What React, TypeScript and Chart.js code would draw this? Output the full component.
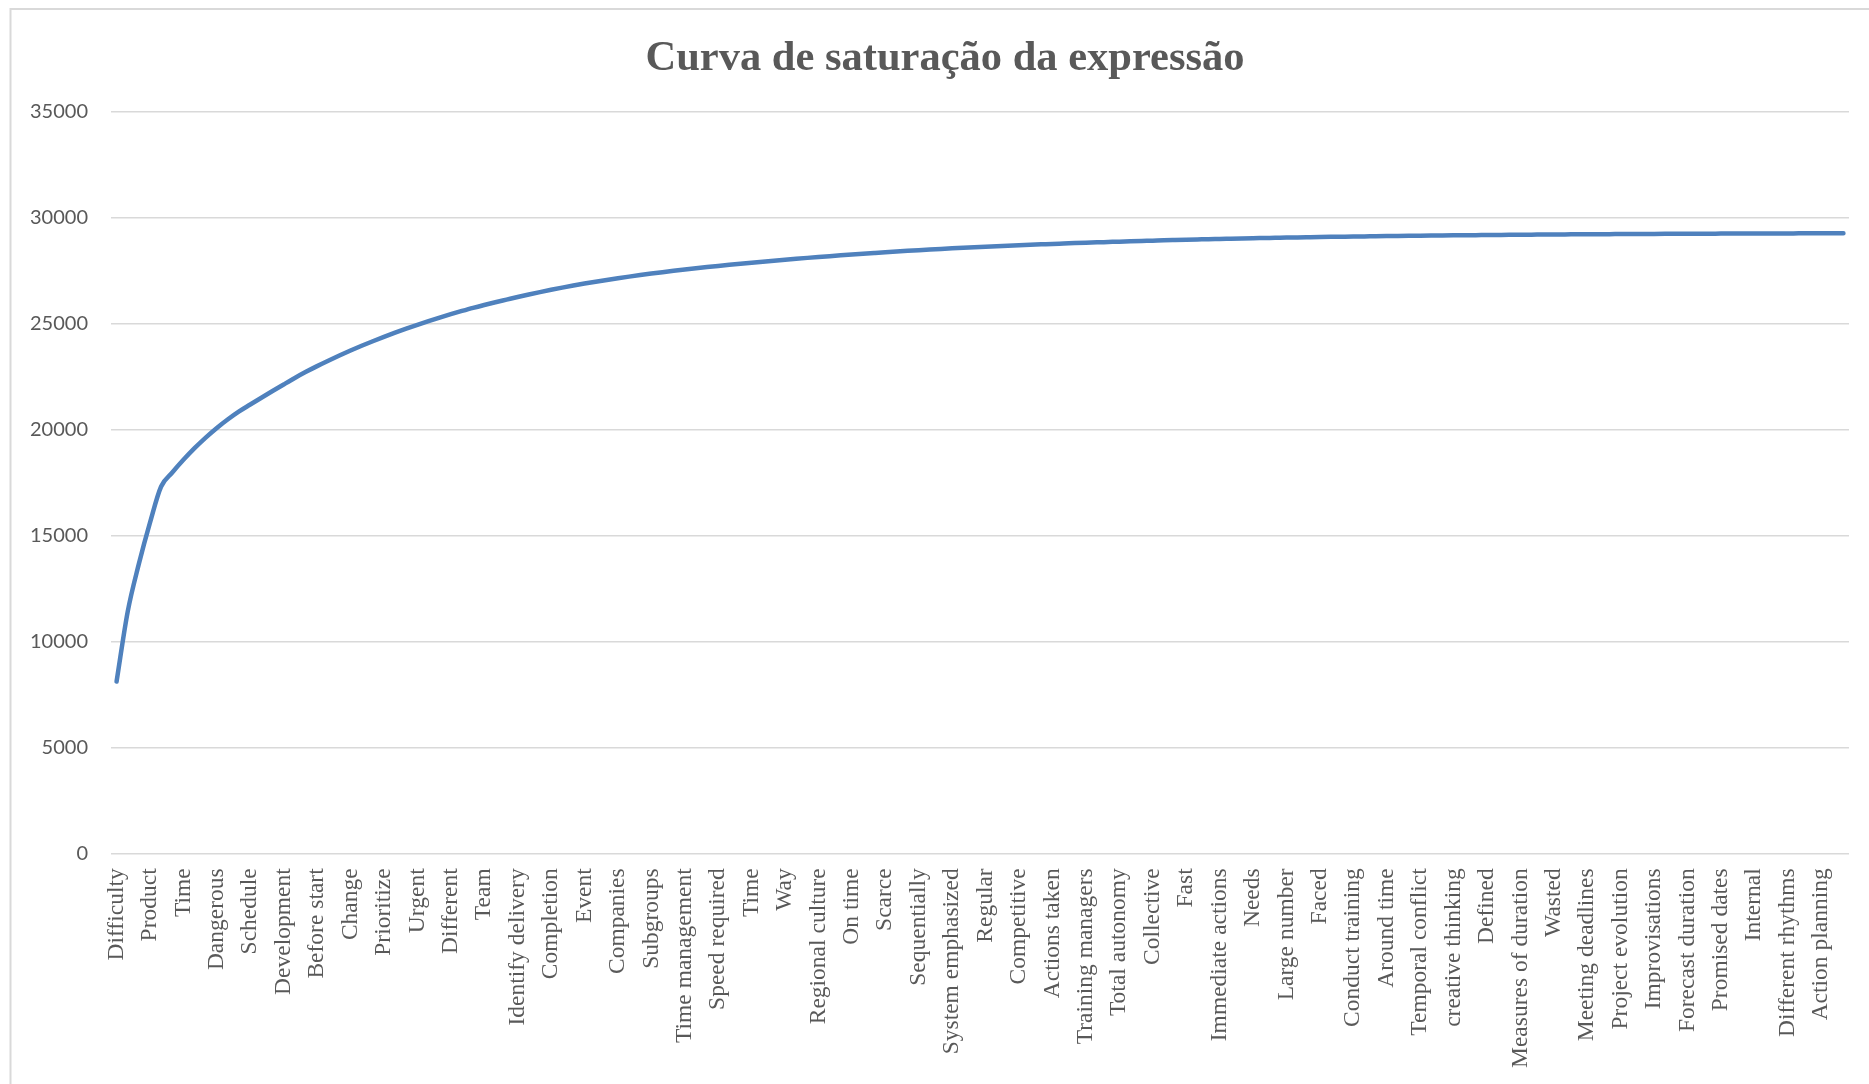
import React, { useEffect, useRef } from "react";
import { Chart, registerables } from "chart.js";

Chart.register(...registerables);

// Every third term is labelled on the horizontal axis
const xLabels: string[] = [
  "Difficulty", "Product", "Time", "Dangerous", "Schedule", "Development",
  "Before start", "Change", "Prioritize", "Urgent", "Different", "Team",
  "Identify delivery", "Completion", "Event", "Companies", "Subgroups",
  "Time management", "Speed required", "Time", "Way", "Regional culture",
  "On time", "Scarce", "Sequentially", "System emphasized", "Regular",
  "Competitive", "Actions taken", "Training managers", "Total autonomy",
  "Collective", "Fast", "Immediate actions", "Needs", "Large number", "Faced",
  "Conduct training", "Around time", "Temporal conflict", "creative thinking",
  "Defined", "Measures of duration", "Wasted", "Meeting deadlines",
  "Project evolution", "Improvisations", "Forecast duration", "Promised dates",
  "Internal", "Different rhythms", "Action planning",
];
const labelEvery = 3;

// Cumulative occurrences, one value per term (156 terms)
const cumulative: number[] = [
  8100, 11400, 13650, 15600, 17300, 17960, 18560, 19110, 19610, 20065,
  20475, 20845, 21170, 21490, 21805, 22115, 22420, 22710, 22980, 23235,
  23480, 23715, 23940, 24155, 24360, 24557, 24746, 24928, 25102, 25269,
  25429, 25582, 25729, 25865, 25995, 26118, 26241, 26359, 26472, 26580,
  26683, 26781, 26874, 26962, 27046, 27126, 27202, 27275, 27345, 27412,
  27476, 27537, 27596, 27653, 27708, 27761, 27812, 27861, 27908, 27954,
  27999, 28043, 28086, 28128, 28168, 28207, 28245, 28282, 28318, 28353,
  28386, 28418, 28449, 28479, 28508, 28536, 28563, 28589, 28614, 28638,
  28661, 28683, 28704, 28724, 28744, 28763, 28782, 28800, 28818, 28835,
  28852, 28868, 28884, 28899, 28914, 28928, 28942, 28955, 28968, 28980,
  28992, 29003, 29014, 29024, 29034, 29044, 29053, 29062, 29070, 29078,
  29086, 29093, 29100, 29107, 29114, 29120, 29126, 29132, 29138, 29144,
  29149, 29154, 29159, 29164, 29169, 29173, 29177, 29181, 29185, 29189,
  29193, 29196, 29199, 29202, 29205, 29208, 29211, 29214, 29217, 29220,
  29222, 29224, 29226, 29228, 29230, 29232, 29234, 29236, 29238, 29240,
  29241, 29242, 29243, 29244, 29245, 29246,
];

const yMin = 0;
const yMax = 35000;
const yStep = 5000;

const titleText = "Curva de saturação da expressão";

const W = 1869;
const H = 1084;

const frameAndTitle = {
  id: "frameAndTitle",
  beforeDraw(chart: any) {
    const ctx = chart.ctx;
    ctx.save();
    ctx.fillStyle = "#ffffff";
    ctx.fillRect(0, 0, chart.width, chart.height);
    ctx.strokeStyle = "#d9d9d9";
    ctx.lineWidth = 2;
    ctx.beginPath();
    ctx.moveTo(10.5, chart.height + 5);
    ctx.lineTo(10.5, 9);
    ctx.lineTo(chart.width + 5, 9);
    ctx.stroke();
    ctx.restore();
  },
  afterDraw(chart: any) {
    const ctx = chart.ctx;
    ctx.save();
    ctx.fillStyle = "#595959";
    ctx.font = "bold 42.5px 'Liberation Serif', 'Times New Roman', serif";
    ctx.textAlign = "center";
    ctx.textBaseline = "alphabetic";
    ctx.fillText(titleText, 945, 70);
    ctx.restore();
  },
};

export default function App() {
  const canvasRef = useRef<HTMLCanvasElement | null>(null);

  useEffect(() => {
    if (!canvasRef.current) return;
    const chart = new Chart(canvasRef.current, {
      type: "line",
      data: {
        datasets: [
          {
            data: cumulative.map((v, i) => ({ x: i, y: v })),
            borderColor: "#4f81bd",
            borderWidth: 4.5,
            borderCapStyle: "round",
            borderJoinStyle: "round",
            pointRadius: 0,
            pointHoverRadius: 0,
            fill: false,
            cubicInterpolationMode: "monotone",
          },
        ],
      },
      options: {
        responsive: false,
        animation: false,
        devicePixelRatio: 1,
        events: [],
        layout: { padding: { top: 111.3, left: 0, right: 20, bottom: 0 } },
        plugins: {
          legend: { display: false },
          title: { display: false },
          tooltip: { enabled: false },
        },
        scales: {
          x: {
            type: "linear",
            min: -0.5,
            max: cumulative.length - 0.5,
            grid: { display: false, drawTicks: false },
            border: { display: false },
            afterBuildTicks: (scale: any) => {
              scale.ticks = xLabels.map((_, k) => ({ value: k * labelEvery }));
            },
            afterFit: (scale: any) => {
              scale.height = H - 853.3;
            },
            ticks: {
              autoSkip: false,
              minRotation: 90,
              maxRotation: 90,
              padding: 15,
              color: "#595959",
              font: { family: "'Liberation Serif', 'Times New Roman', serif", size: 23.5 },
              callback: (value: any) => {
                const k = Math.round(Number(value) / labelEvery);
                return xLabels[k] ?? "";
              },
            },
          },
          y: {
            min: yMin,
            max: yMax,
            grid: { color: "#d9d9d9", lineWidth: 1.5, drawTicks: false },
            border: { display: false },
            afterFit: (scale: any) => {
              scale.width = 111;
            },
            ticks: {
              stepSize: yStep,
              padding: 23,
              color: "#595959",
              font: { family: "Lato, 'Liberation Sans', sans-serif", size: 20 },
              callback: (value: any) => String(value),
            },
          },
        },
      },
      plugins: [frameAndTitle],
    } as any);
    return () => chart.destroy();
  }, []);

  return (
    <div style={{ position: "fixed", left: 0, top: 0, width: W, height: H, background: "#fff" }}>
      <canvas ref={canvasRef} width={W} height={H} style={{ width: W, height: H, display: "block" }} />
    </div>
  );
}
